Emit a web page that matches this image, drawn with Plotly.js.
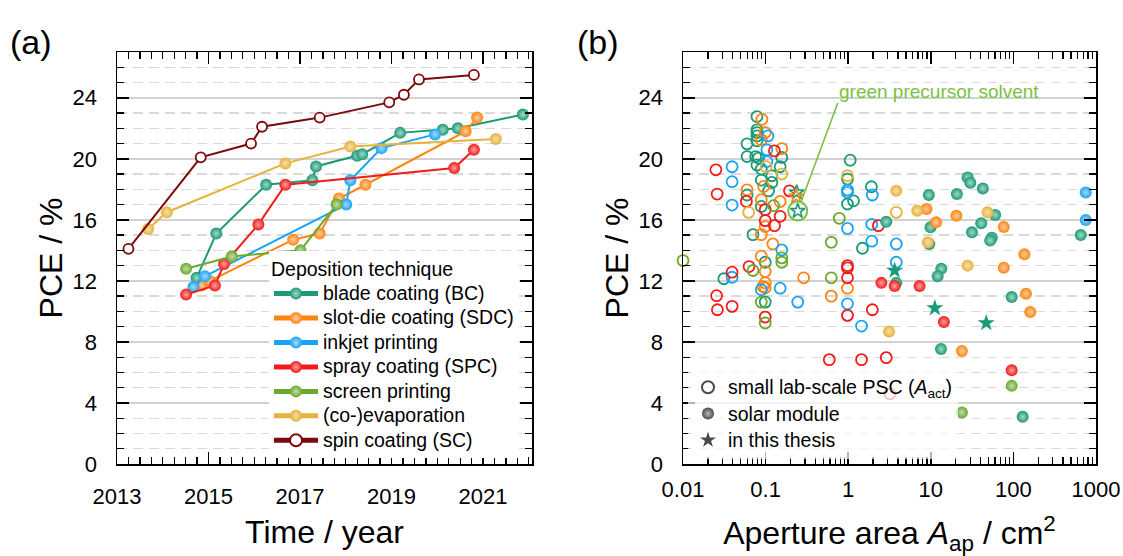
<!DOCTYPE html>
<html>
<head>
<meta charset="utf-8">
<script src="https://cdn.plot.ly/plotly-3.0.1.min.js"></script>
<style>
  html, body { margin: 0; padding: 0; background: #ffffff; }
  #chart { width: 1123px; height: 556px; }
</style>
</head>
<body>
<div id="chart"></div>
<script>
// ---------- (a) record efficiency over time, per deposition technique ----------
const bladeYear  = [2014.74, 2015.17, 2016.26, 2017.27, 2017.35, 2018.25, 2018.36, 2019.19, 2020.12, 2020.45, 2021.87];
const bladePce   = [12.2, 15.1, 18.3, 18.6, 19.5, 20.2, 20.3, 21.7, 21.9, 22.0, 22.9];
const slotYear   = [2014.85, 2015.03, 2016.85, 2017.43, 2017.85, 2018.43, 2020.62, 2020.87];
const slotPce    = [11.7, 12.0, 14.7, 15.1, 17.4, 18.3, 21.8, 22.7];
const inkjetYear = [2014.67, 2014.92, 2018.01, 2018.10, 2018.78, 2019.95];
const inkjetPce  = [11.6, 12.3, 17.0, 18.6, 20.7, 21.6];
const sprayYear  = [2014.51, 2015.14, 2015.34, 2016.09, 2016.68, 2020.37, 2020.80];
const sprayPce   = [11.1, 11.7, 13.1, 15.7, 18.3, 19.4, 20.6];
const screenYear = [2014.51, 2015.51, 2017.01, 2017.80];
const screenPce  = [12.8, 13.6, 14.0, 17.0];
const evapYear   = [2013.68, 2014.09, 2016.68, 2018.10, 2021.28];
const evapPce    = [15.4, 16.5, 19.7, 20.8, 21.3];
const spinYear   = [2013.25, 2014.83, 2015.93, 2016.17, 2017.43, 2018.95, 2019.27, 2019.60, 2020.80];
const spinPce    = [14.1, 20.1, 21.0, 22.1, 22.7, 23.7, 24.2, 25.2, 25.5];

const techniqueNames = ['blade coating (BC)', 'slot-die coating (SDC)', 'inkjet printing',
  'spray coating (SPC)', 'screen printing', '(co-)evaporation', 'spin coating (SC)'];

// ---------- (b) efficiency vs aperture area ----------
// small lab-scale cells (open circles)
const labBladeArea = [0.0312, 0.0596, 0.0596, 0.0786, 0.0786, 0.0786, 0.0786, 0.0786, 0.0758, 0.082, 0.157, 0.0786, 0.0887, 0.150, 0.119, 0.0887, 0.119, 0.0596, 0.1087, 0.0887, 0.0703, 0.099, 0.099, 1.057, 0.98, 1.16, 0.98, 1.487, 1.91];
const labBladePce  = [12.14, 20.98, 20.15, 22.77, 21.90, 21.72, 21.50, 21.18, 20.15, 20.05, 20.09, 19.59, 19.33, 19.48, 18.89, 18.61, 18.45, 17.63, 17.90, 16.88, 15.03, 13.22, 10.61, 19.91, 18.67, 17.25, 17.04, 14.14, 18.17];
const labSlotArea  = [0.0902, 0.099, 0.0887, 0.157, 0.0946, 0.0596, 0.0887, 0.150, 0.099, 0.0887, 0.1224, 0.0887, 0.099, 0.099, 0.093, 0.099, 0.289, 0.624, 0.98];
const labSlotPce   = [22.59, 21.72, 21.24, 20.67, 18.19, 17.97, 17.32, 17.21, 15.56, 15.03, 14.42, 13.62, 12.61, 11.87, 11.63, 11.55, 12.20, 11.00, 11.52];
const labInkjetArea = [0.0393, 0.0393, 0.0393, 0.1066, 0.1037, 0.1037, 0.157, 0.0393, 0.0887, 0.150, 0.245, 0.98, 0.98, 0.98, 0.98, 1.45, 1.96, 1.93, 1.93, 3.82, 3.82];
const labInkjetPce  = [19.48, 18.50, 16.97, 21.50, 20.59, 19.82, 14.03, 12.24, 11.42, 11.52, 10.61, 17.95, 17.80, 15.44, 10.50, 9.04, 17.63, 15.71, 14.60, 14.42, 13.22];
const labSprayArea = [0.025, 0.0259, 0.0255, 0.0261, 0.0393, 0.0393, 0.063, 0.0585, 0.128, 0.1945, 0.099, 0.150, 0.099, 0.128, 0.099, 0.98, 0.98, 0.98, 0.98, 1.96, 2.32, 0.59, 1.45, 2.89, 3.2];
const labSprayPce  = [19.28, 17.69, 11.03, 10.11, 12.57, 10.33, 12.94, 17.21, 20.52, 17.90, 16.67, 16.23, 15.95, 15.62, 9.63, 13.00, 12.85, 12.20, 9.74, 10.11, 15.62, 6.84, 6.84, 6.97, 4.60];
const labScreenArea = [0.01, 0.1248, 0.157, 0.157, 0.0703, 0.0887, 0.099, 0.78, 0.624, 0.624];
const labScreenPce  = [13.33, 16.93, 13.51, 13.22, 12.68, 10.61, 9.24, 16.10, 14.53, 12.20];
const labEvapArea = [0.1016, 0.157, 0.0624, 0.98, 3.82];
const labEvapPce  = [19.48, 19.00, 16.49, 18.89, 16.49];

// solar modules (filled spheres)
const modBladeArea = [2.89, 9.46, 20.7, 27.9, 30.1, 42.7, 9.92, 31.5, 40.8, 60.2, 54.8, 52.4, 9.6, 654, 13.4, 12.1, 3.82, 95.4, 13.3, 129.4];
const modBladePce  = [15.88, 17.63, 17.69, 18.78, 18.43, 18.06, 15.51, 15.18, 15.77, 16.32, 14.82, 14.64, 14.42, 15.01, 12.79, 12.31, 11.87, 10.94, 7.54, 3.09];
const modSlotArea  = [8.87, 11.6, 20.4, 76.4, 135.8, 76.4, 142, 160, 23.8];
const modSlotPce   = [16.71, 15.84, 16.27, 15.53, 13.75, 12.86, 11.16, 9.96, 7.41];
const modInkjetArea = [751, 751];
const modInkjetPce  = [17.80, 15.99];
const modSprayArea = [2.52, 3.65, 7.31, 14.4, 95.4];
const modSprayPce  = [11.87, 11.66, 11.66, 9.30, 6.14];
const modScreenArea = [95.4, 23.8];
const modScreenPce  = [5.12, 3.38];
const modEvapArea = [3.82, 6.84, 48.6, 9.2, 27.9, 3.12];
const modEvapPce  = [17.90, 16.60, 16.49, 14.53, 13.00, 8.69];

// devices from this thesis (stars); the last lab cell used a green precursor solvent
const thesisLabArea  = [0.238, 0.234, 0.245];
const thesisLabPce   = [17.80, 17.54, 16.58];
const thesisLabTech  = ['blade', 'slot', 'blade'];
const thesisModArea  = [3.65, 11.2, 46.9];
const thesisModPce   = [12.68, 10.22, 9.24];

const yTicks = [0, 4, 8, 12, 16, 20, 24];
const xTicksB = [0.01, 0.1, 1, 10, 100, 1000];
const xTickTextB = ['0.01', '0.1', '1', '10', '100', '1000'];

// ---------- styling ----------
const C = {
  blade: '#1b9a76', slot: '#ff8412', inkjet: '#1aa3f5', spray: '#f51a1a',
  screen: '#69a92b', evap: '#e6b23a', spin: '#7d0a0a', greenNote: '#7ac143', gray: '#4a4a4a'
};
function tint(hex, f) {
  const n = parseInt(hex.slice(1), 16);
  const r = (n >> 16) & 255, g = (n >> 8) & 255, b = n & 255;
  const m = c => Math.round(c + (255 - c) * f);
  return 'rgb(' + m(r) + ',' + m(g) + ',' + m(b) + ')';
}
function sphere(col, size) {
  return { color: col, size: size, symbol: 'circle', line: { width: 0 },
           gradient: { type: 'radial', color: tint(col, 0.6) } };
}
const FONT = 'Arial, "Liberation Sans", Helvetica, sans-serif';
// legend rows are spaced from the legend font size; the label itself is drawn larger
const big = s => '<span style="font-size:19.5px">' + s + '</span>';

const traces = [];
// (a)
const seriesA = [
  [bladeYear, bladePce, C.blade], [slotYear, slotPce, C.slot], [inkjetYear, inkjetPce, C.inkjet],
  [sprayYear, sprayPce, C.spray], [screenYear, screenPce, C.screen], [evapYear, evapPce, C.evap]
];
seriesA.forEach((s, i) => {
  traces.push({
    type: 'scatter', mode: 'lines+markers', x: s[0], y: s[1], name: big(techniqueNames[i]),
    xaxis: 'x', yaxis: 'y', legend: 'legend', cliponaxis: false,
    line: { color: s[2], width: 2 }, marker: sphere(s[2], 12)
  });
});
traces.push({
  type: 'scatter', mode: 'lines+markers', x: spinYear, y: spinPce, name: big(techniqueNames[6]),
  xaxis: 'x', yaxis: 'y', legend: 'legend', cliponaxis: false,
  line: { color: C.spin, width: 2 },
  marker: { symbol: 'circle', color: '#ffffff', size: 10, line: { color: C.spin, width: 1.8 } }
});

// (b) lab-scale cells
[[labBladeArea, labBladePce, C.blade], [labSlotArea, labSlotPce, C.slot],
 [labInkjetArea, labInkjetPce, C.inkjet], [labSprayArea, labSprayPce, C.spray],
 [labScreenArea, labScreenPce, C.screen], [labEvapArea, labEvapPce, C.evap]].forEach(s => {
  traces.push({
    type: 'scatter', mode: 'markers', x: s[0], y: s[1], xaxis: 'x2', yaxis: 'y2',
    showlegend: false, cliponaxis: false, hoverinfo: 'x+y',
    marker: { symbol: 'circle-open', color: s[2], size: 11, line: { width: 1.8 } }
  });
});
// (b) modules
[[modBladeArea, modBladePce, C.blade], [modSlotArea, modSlotPce, C.slot],
 [modInkjetArea, modInkjetPce, C.inkjet], [modSprayArea, modSprayPce, C.spray],
 [modScreenArea, modScreenPce, C.screen], [modEvapArea, modEvapPce, C.evap]].forEach(s => {
  traces.push({
    type: 'scatter', mode: 'markers', x: s[0], y: s[1], xaxis: 'x2', yaxis: 'y2',
    showlegend: false, cliponaxis: false, hoverinfo: 'x+y', marker: sphere(s[2], 12)
  });
});
// (b) thesis devices
traces.push({
  type: 'scatter', mode: 'markers', x: thesisLabArea, y: thesisLabPce, xaxis: 'x2', yaxis: 'y2',
  showlegend: false, hoverinfo: 'x+y',
  marker: { symbol: 'star-open', size: 11, color: thesisLabTech.map(t => C[t]), line: { width: 1.6 } }
});
traces.push({
  type: 'scatter', mode: 'markers', x: thesisModArea, y: thesisModPce, xaxis: 'x2', yaxis: 'y2',
  showlegend: false, hoverinfo: 'x+y',
  marker: { symbol: 'star', size: 13, color: C.blade, line: { width: 0 } }
});
// ring around the green-solvent cell
const gIdx = thesisLabArea.length - 1;
traces.push({
  type: 'scatter', mode: 'markers', x: [thesisLabArea[gIdx]], y: [thesisLabPce[gIdx]],
  xaxis: 'x2', yaxis: 'y2', showlegend: false, hoverinfo: 'skip',
  marker: { symbol: 'circle-open', size: 19, color: C.greenNote, line: { width: 2 } }
});
// legend entries for the marker styles of (b)
traces.push({ type: 'scatter', mode: 'markers', x: [null], y: [null], xaxis: 'x2', yaxis: 'y2',
  legend: 'legend2', name: big('small lab-scale PSC (<i>A</i><sub>act</sub>)'),
  marker: { symbol: 'circle-open', size: 10, color: C.gray, line: { width: 1.5 } } });
traces.push({ type: 'scatter', mode: 'markers', x: [null], y: [null], xaxis: 'x2', yaxis: 'y2',
  legend: 'legend2', name: big('solar module'), marker: sphere(C.gray, 11) });
traces.push({ type: 'scatter', mode: 'markers', x: [null], y: [null], xaxis: 'x2', yaxis: 'y2',
  legend: 'legend2', name: big('in this thesis'),
  marker: { symbol: 'star', size: 12, color: C.gray, line: { width: 0 } } });

// ---------- axes ----------
const W = 1123, H = 556;
const fx = v => v / W, fy = v => 1 - v / H;
const TITLE_FONT = { family: FONT, size: 32, color: '#000' };
const frame = { showline: true, linecolor: '#000', linewidth: 1.5, mirror: 'ticks',
  ticks: 'inside', ticklen: 12, tickwidth: 1.5, tickcolor: '#000', zeroline: false,
  tickfont: { family: FONT, size: 22, color: '#000' }, ticklabelstandoff: 14 };
function yAxis(anchor) {
  return Object.assign({}, frame, {
    anchor: anchor, domain: [fy(464), fy(52)], range: [0, 27], tickvals: yTicks,
    showgrid: true, gridcolor: '#d2d2d2', gridwidth: 1.5,
    minor: { dtick: 1, tick0: 0, ticks: 'inside', ticklen: 7, tickwidth: 1.3, tickcolor: '#000',
             showgrid: true, gridcolor: '#d9d9d9', gridwidth: 1.3, griddash: '10px,6px' },
    title: { text: 'PCE / %', font: TITLE_FONT, standoff: 0 }
  });
}

const layout = {
  width: W, height: H, autosize: false,
  margin: { l: 0, r: 0, t: 0, b: 0, pad: 0 },
  paper_bgcolor: '#ffffff', plot_bgcolor: '#ffffff',
  font: { family: FONT, color: '#000' },
  showlegend: true,
  xaxis: Object.assign({}, frame, {
    anchor: 'y', domain: [fx(117), fx(532)], range: [2013, 2022.07],
    tick0: 2013, dtick: 2, tickformat: 'd', showgrid: false, ticklabelstandoff: 12,
    minor: { dtick: 0.25, tick0: 2013, ticks: 'inside', ticklen: 7, tickwidth: 1.3, tickcolor: '#000', showgrid: false },
    title: { text: 'Time / year', font: TITLE_FONT, standoff: 12 }
  }),
  yaxis: yAxis('x'),
  xaxis2: Object.assign({}, frame, {
    anchor: 'y2', domain: [fx(683), fx(1096)], type: 'log', range: [-2, 3],
    tickvals: xTicksB, ticktext: xTickTextB, showgrid: false, ticklabelstandoff: 5,
    minor: { dtick: 'D1', ticks: 'inside', ticklen: 7, tickwidth: 1.3, tickcolor: '#000', showgrid: false },
    title: { text: 'Aperture area <i>A</i><sub>ap</sub> / cm<sup>2</sup>', font: TITLE_FONT, standoff: 25 }
  }),
  yaxis2: yAxis('x2'),
  legend: {
    x: fx(269), y: fy(251), xanchor: 'left', yanchor: 'top', xref: 'paper', yref: 'paper',
    bgcolor: '#ffffff', borderwidth: 0, tracegroupgap: 0, itemsizing: 'constant', itemwidth: 44,
    font: { family: FONT, size: 16.5, color: '#000' },
    title: { text: 'Deposition technique', font: { family: FONT, size: 19.5, color: '#000' } }
  },
  legend2: {
    x: fx(688), y: fy(369), xanchor: 'left', yanchor: 'top', xref: 'paper', yref: 'paper',
    bgcolor: 'rgba(255,255,255,0.7)', borderwidth: 0, tracegroupgap: 0, itemsizing: 'constant',
    font: { family: FONT, size: 18, color: '#000' }
  },
  annotations: [
    { xref: 'paper', yref: 'paper', x: fx(8), y: fy(42), xanchor: 'left', yanchor: 'middle',
      text: '(a)', showarrow: false, font: { family: FONT, size: 34, color: '#000' } },
    { xref: 'paper', yref: 'paper', x: fx(575), y: fy(42), xanchor: 'left', yanchor: 'middle',
      text: '(b)', showarrow: false, font: { family: FONT, size: 34, color: '#000' } },
    { xref: 'x2', yref: 'y2', x: Math.log10(thesisLabArea[gIdx]), y: thesisLabPce[gIdx],
      ax: 40, ay: -108, xanchor: 'left', yanchor: 'bottom',
      text: 'green precursor solvent', showarrow: true, arrowhead: 0, arrowwidth: 1.6,
      arrowcolor: C.greenNote, standoff: 9, borderpad: 0,
      font: { family: FONT, size: 19, color: C.greenNote } }
  ]
};

Plotly.newPlot('chart', traces, layout, { staticPlot: true, displayModeBar: false });
</script>
</body>
</html>
